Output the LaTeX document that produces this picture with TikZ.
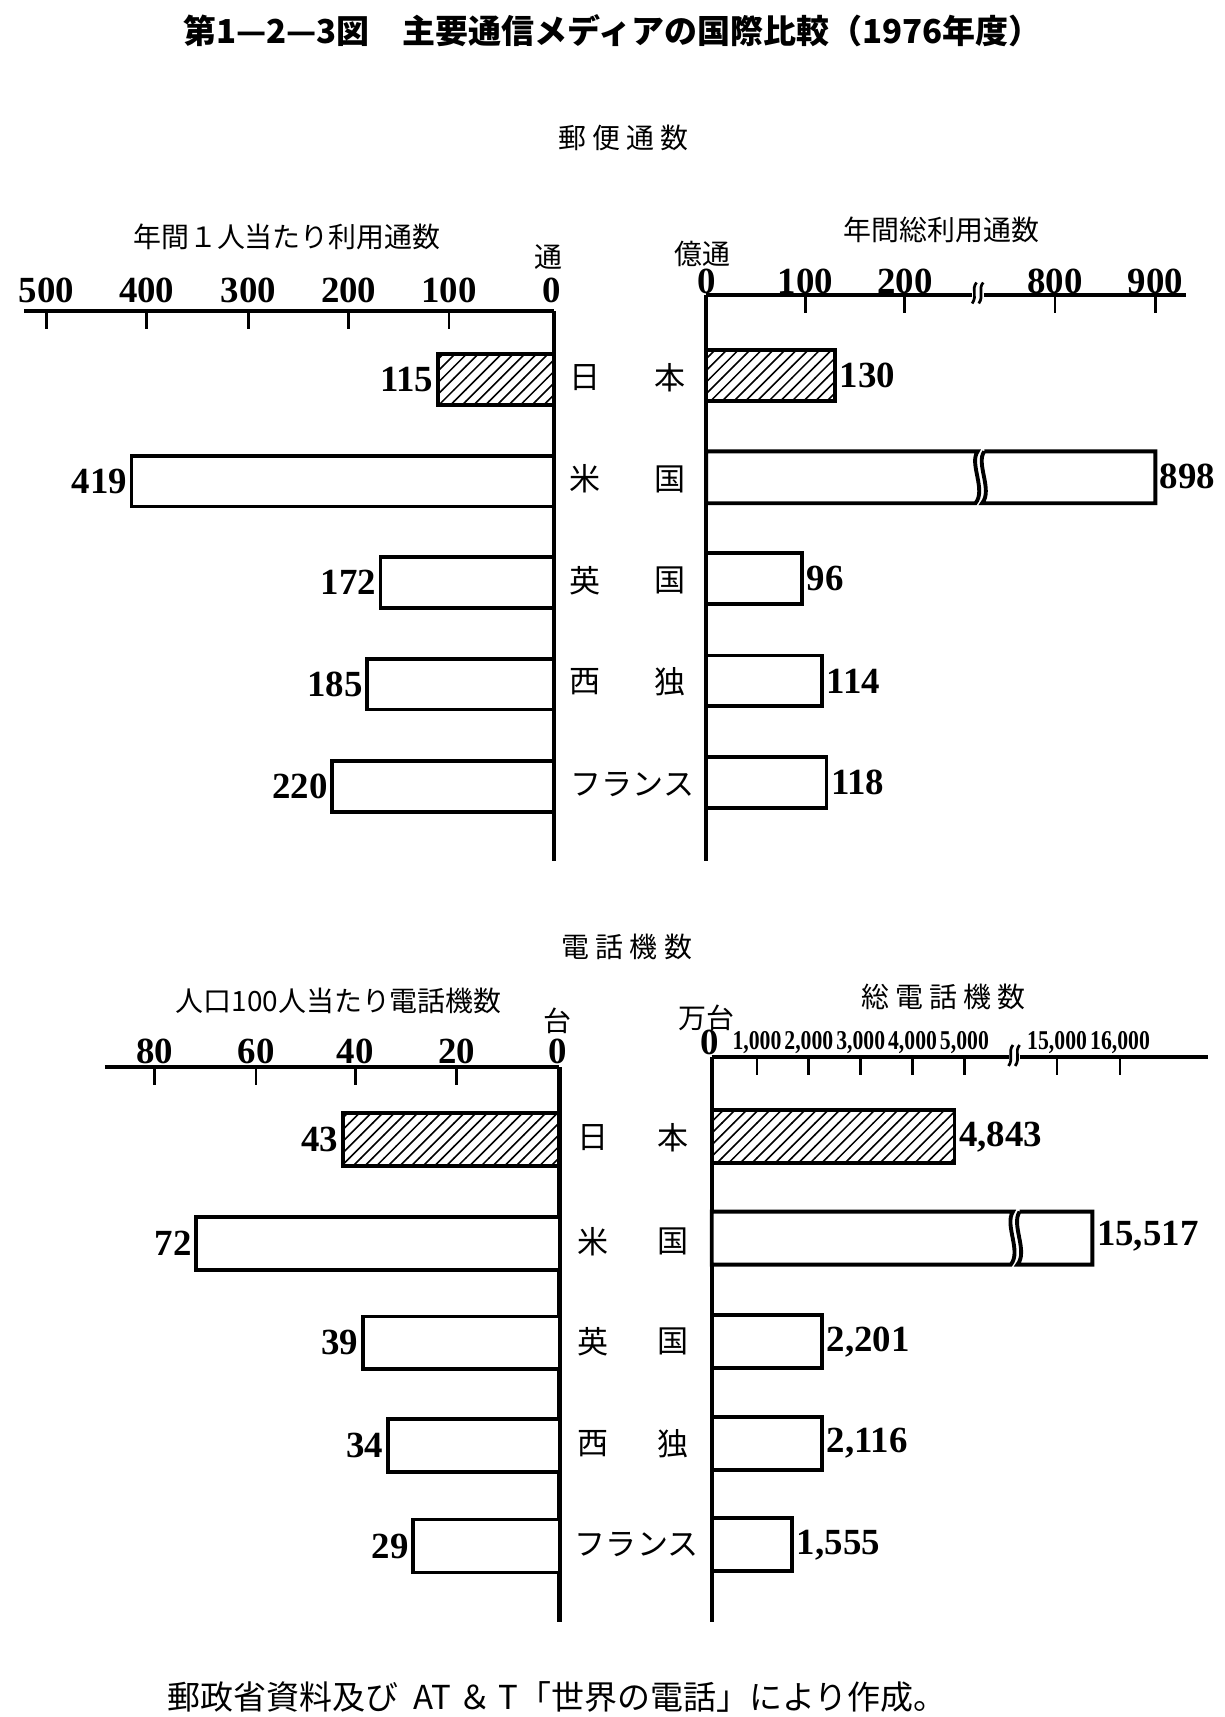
\documentclass[tikz,border=0pt]{standalone}
\usepackage{fontspec}
\setmainfont{Liberation Serif}
\newfontfamily\jp{Noto Sans CJK JP}
\usetikzlibrary{patterns}
\begin{document}
\begin{tikzpicture}[x=0.01cm,y=-0.01cm,
  ax/.style={line width=1.1pt},
  tk/.style={line width=0.7pt},
  bar/.style={draw,line width=1pt,fill=white},
  hbar/.style={draw,line width=1pt,pattern=north east lines},
  num/.style={font=\fontsize{9.5}{10}\selectfont\bfseries,inner sep=1pt},
  jlab/.style={font=\jp\fontsize{7.2}{8}\selectfont,inner sep=0pt},
  sm/.style={font=\fontsize{7}{8}\selectfont\bfseries,inner sep=0pt,xscale=0.8}]
\useasboundingbox (0,0) rectangle (1110,1556);
\node[font=\jp\bfseries\fontsize{8.5}{9}\selectfont] (title) at (555,28) {第1—2—3図　主要通信メディアの国際比較（1976年度）};
\node[jlab] (t1) at (565,125) {郵 便 通 数};
% ---- top left
\node[jlab] (l1) at (260,215) {年間１人当たり利用通数};
\node[jlab] (u1) at (497,233) {通};
\draw[ax] (22,282) -- (502,282);
\draw[ax] (502,282) -- (502,780);
\foreach \v/\x in {500/42,400/133,300/225,200/316,100/407,0/500}{
  \node[num] at (\x,263) {\v};
  \ifnum\v>0 \draw[tk] (\x,282) -- (\x,298);\fi}
\foreach \v/\y/\h in {115/344/1,419/436/0,172/528/0,185/620/0,220/713/0}{
  \pgfmathsetmacro\xl{502-\v*0.9136}
  \ifnum\h=1 \draw[hbar] (\xl,\y-23) rectangle (502,\y+23);
  \else \draw[bar] (\xl,\y-23) rectangle (502,\y+23);\fi
  \node[num,anchor=east] at (\xl,\y) {\v};}
% countries
\foreach \a/\b/\y in {日/本/342,米/国/434,英/国/526,西/独/618}{
  \node[jlab,font=\jp\fontsize{8}{9}\selectfont] at (530,\y) {\a};
  \node[jlab,font=\jp\fontsize{8}{9}\selectfont] at (607,\y) {\b};}
\node[jlab,font=\jp\fontsize{8}{9}\selectfont] at (573,711) {フランス};
% ---- top right
\node[jlab] (r1) at (853,208) {年間総利用通数};
\node[jlab] (u2) at (637,230) {億通};
\draw[ax] (640,267) -- (881,267);
\draw[ax] (892,267) -- (1075,267);
\draw[tk] (881,275) .. controls (886,268) and (880,262) .. (885,256);
\draw[tk] (887,275) .. controls (892,268) and (886,262) .. (891,256);
\draw[ax] (640,267) -- (640,780);
\foreach \v/\x in {0/640,100/730,200/820,800/956,900/1047}{
  \node[num] at (\x,255) {\v};
  \ifnum\v>0 \draw[tk] (\x,267) -- (\x,284);\fi}
\foreach \v/\y/\x/\h in {130/340/757/1,96/524/727/0,114/617/745/0,118/709/749/0}{
  \ifnum\h=1 \draw[hbar] (640,\y-23) rectangle (\x,\y+23);
  \else \draw[bar] (640,\y-23) rectangle (\x,\y+23);\fi
  \node[num,anchor=west] at (\x,\y) {\v};}
\draw[bar] (640,409) -- (886,409) .. controls (878,420) and (894,444) .. (884,456) -- (640,456) -- cycle;
\draw[bar] (892,409) -- (1047,409) -- (1047,456) -- (890,456) .. controls (900,444) and (884,420) .. (892,409);
\node[num,anchor=west] at (1047,432) {898};
% ---- bottom
\node[jlab] (t2) at (568,858) {電 話 機 数};
\node[jlab] (l2) at (307,907) {人口100人当たり電話機数};
\node[jlab] (u3) at (505,925) {台};
\draw[ax] (95,967) -- (507,967);
\draw[ax] (507,967) -- (507,1470);
\foreach \v/\x in {80/140,60/232,40/322,20/414,0/505}{
  \node[num] at (\x,953) {\v};
  \ifnum\v>0 \draw[tk] (\x,967) -- (\x,983);\fi}
\foreach \v/\y/\h in {43/1033/1,72/1127/0,39/1217/0,34/1310/0,29/1401/0}{
  \pgfmathsetmacro\xl{507-\v*4.57}
  \ifnum\h=1 \draw[hbar] (\xl,\y-24) rectangle (507,\y+24);
  \else \draw[bar] (\xl,\y-24) rectangle (507,\y+24);\fi
  \node[num,anchor=east] at (\xl,\y) {\v};}
\foreach \a/\b/\y in {日/本/1031,米/国/1125,英/国/1216,西/独/1308}{
  \node[jlab,font=\jp\fontsize{8}{9}\selectfont] at (537,\y) {\a};
  \node[jlab,font=\jp\fontsize{8}{9}\selectfont] at (610,\y) {\b};}
\node[jlab,font=\jp\fontsize{8}{9}\selectfont] at (577,1400) {フランス};
\node[jlab] (r2) at (855,903) {総 電 話 機 数};
\node[jlab] (u4) at (640,922) {万台};
\draw[ax] (645,958) -- (914,958);
\draw[ax] (924,958) -- (1095,958);
\draw[tk] (914,966) .. controls (919,959) and (913,953) .. (918,947);
\draw[tk] (920,966) .. controls (925,959) and (919,953) .. (924,947);
\draw[ax] (645,958) -- (645,1470);
\node[num] at (643,945) {0};
\foreach \v/\x in {1{,}000/686,2{,}000/733,3{,}000/780,4{,}000/827,5{,}000/874,15{,}000/958,16{,}000/1015}{
  \node[sm] at (\x,945) {\v};
  \draw[tk] (\x,958) -- (\x,974);}
\foreach \v/\y/\x/\h in {4{,}843/1030/865/1,2{,}201/1216/745/0,2{,}116/1308/745/0,1{,}555/1400/718/0}{
  \ifnum\h=1 \draw[hbar] (645,\y-24) rectangle (\x,\y+24);
  \else \draw[bar] (645,\y-24) rectangle (\x,\y+24);\fi
  \node[num,anchor=west] at (\x,\y) {\v};}
\draw[bar] (645,1098) -- (918,1098) .. controls (910,1110) and (926,1134) .. (916,1146) -- (645,1146) -- cycle;
\draw[bar] (924,1098) -- (990,1098) -- (990,1146) -- (922,1146) .. controls (932,1134) and (916,1110) .. (924,1098);
\node[num,anchor=west] at (990,1120) {15,517};
% footer
\node[font=\jp\fontsize{8.5}{9}\selectfont] (src) at (505,1538) {郵政省資料及び\ \ AT ＆ T「世界の電話」により作成。};
\end{tikzpicture}
\end{document}
